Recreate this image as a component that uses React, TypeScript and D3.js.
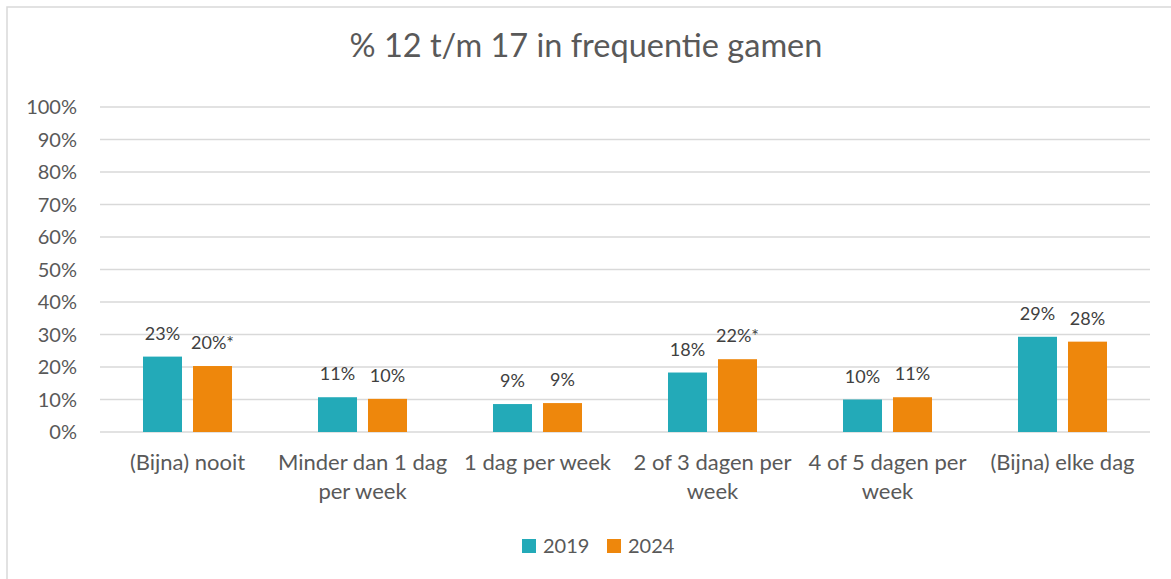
import React from "react";
import * as d3 from "d3";

const categories: string[][] = [
  ["(Bijna) nooit"],
  ["Minder dan 1 dag", "per week"],
  ["1 dag per week"],
  ["2 of 3 dagen per", "week"],
  ["4 of 5 dagen per", "week"],
  ["(Bijna) elke dag"],
];
const seriesNames = ["2019", "2024"];
const values2019 = [23.2, 10.7, 8.6, 18.3, 10.0, 29.3];
const values2024 = [20.3, 10.2, 8.9, 22.4, 10.7, 27.8];
const labels2019 = ["23%", "11%", "9%", "18%", "10%", "29%"];
const labels2024 = ["20%*", "10%", "9%", "22%*", "11%", "28%"];
const yTicks = [0, 10, 20, 30, 40, 50, 60, 70, 80, 90, 100];
const colors = ["#23AAB8", "#EE870C"];
const title = "% 12 t/m 17 in frequentie gamen";

const W = 1171;
const H = 579;
const FONT = "Lato, Carlito, 'Open Sans', sans-serif";

export default function App() {
  const x0 = d3
    .scaleBand<number>()
    .domain(categories.map((_, i) => i))
    .range([100, 1150])
    .padding(0);
  const x1 = d3
    .scaleBand<string>()
    .domain(seriesNames)
    .range([0, x0.bandwidth()])
    .paddingInner(0.22)
    .paddingOuter(0.86);
  const y = d3.scaleLinear().domain([0, 100]).range([432, 107]);
  const series = [values2019, values2024];
  const seriesLabels = [labels2019, labels2024];

  return (
    <div style={{ position: "absolute", left: 0, top: 0 }}>
      <svg width={W} height={H} style={{ display: "block", fontFamily: FONT }}>
        <rect x={0} y={0} width={W} height={H} fill="#fff" />
        <path d={`M7,${H} V7 H${W}`} fill="none" stroke="#D9D9D9" strokeWidth={1.5} />
        <text x={586} y={57} textAnchor="middle" fontSize={32.5} fill="#595959">
          {title}
        </text>
        {yTicks.map((t) => (
          <g key={t}>
            <line x1={100} x2={1150} y1={y(t)} y2={y(t)} stroke="#D9D9D9" strokeWidth={1.5} />
            <text
              x={77}
              y={y(t)}
              dy="0.35em"
              textAnchor="end"
              fontSize={20}
              fill="#595959"
            >
              {t}%
            </text>
          </g>
        ))}
        {categories.map((cat, i) => (
          <g key={i}>
            {series.map((vals, s) => {
              const bx = (x0(i) as number) + (x1(seriesNames[s]) as number);
              const bw = x1.bandwidth();
              return (
                <g key={s}>
                  <rect
                    x={bx}
                    y={y(vals[i])}
                    width={bw}
                    height={y(0) - y(vals[i])}
                    fill={colors[s]}
                  />
                  <text
                    x={bx + bw / 2}
                    y={y(vals[i]) - 17}
                    textAnchor="middle"
                    fontSize={18}
                    fill="#404040"
                  >
                    {seriesLabels[s][i]}
                  </text>
                </g>
              );
            })}
            {cat.map((line, li) => (
              <text
                key={li}
                x={(x0(i) as number) + x0.bandwidth() / 2}
                y={470 + li * 29}
                textAnchor="middle"
                fontSize={22}
                fill="#595959"
              >
                {line}
              </text>
            ))}
          </g>
        ))}
        {seriesNames.map((name, s) => {
          const lx = 522 + s * 85;
          return (
            <g key={name}>
              <rect x={lx} y={539} width={14} height={14} fill={colors[s]} />
              <text x={lx + 21} y={553} fontSize={20} fill="#595959">
                {name}
              </text>
            </g>
          );
        })}
      </svg>
    </div>
  );
}
